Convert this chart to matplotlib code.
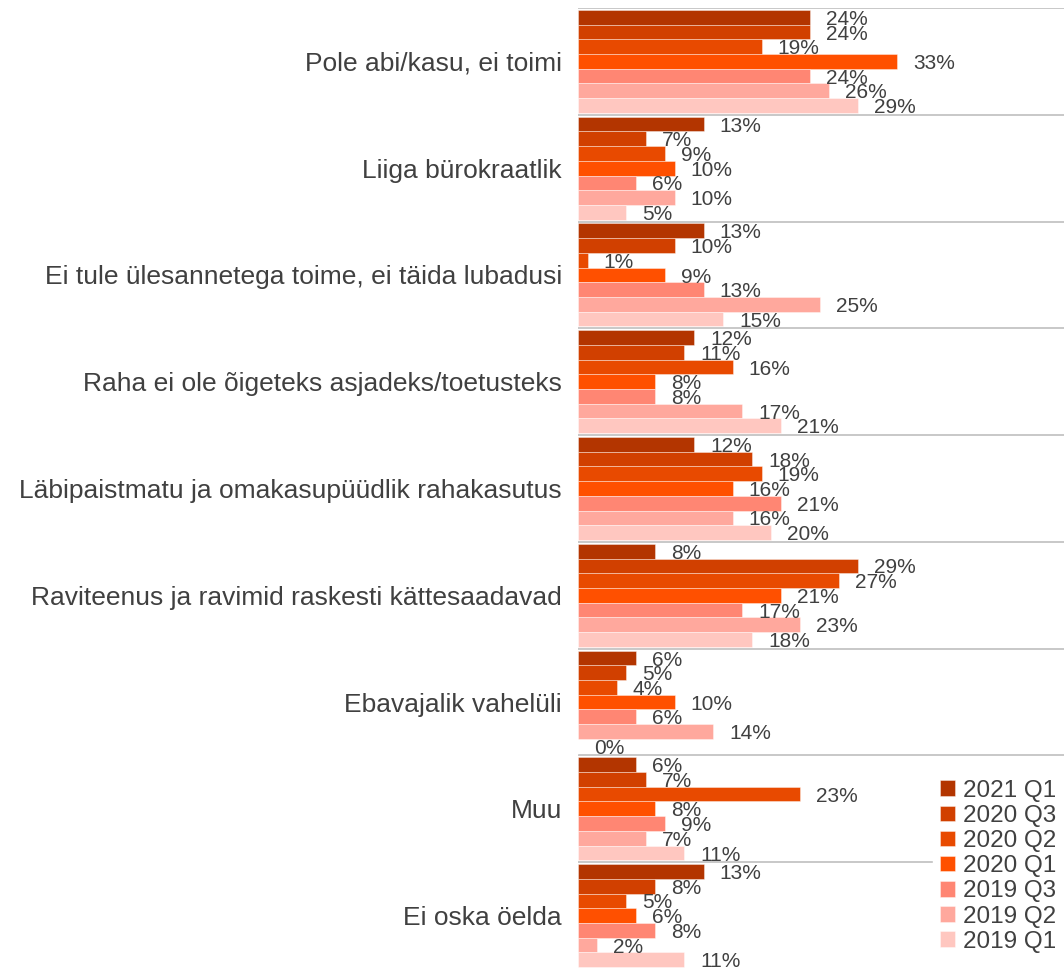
import matplotlib
matplotlib.use("Agg")
import matplotlib.pyplot as plt
import numpy as np

plt.rcParams['font.family'] = ['Liberation Sans', 'DejaVu Sans']

categories = [
    "Pole abi/kasu, ei toimi",
    "Liiga bürokraatlik",
    "Ei tule ülesannetega toime, ei täida lubadusi",
    "Raha ei ole õigeteks asjadeks/toetusteks",
    "Läbipaistmatu ja omakasupüüdlik rahakasutus",
    "Raviteenus ja ravimid raskesti kättesaadavad",
    "Ebavajalik vahelüli",
    "Muu",
    "Ei oska öelda",
]
series_names = ["2021 Q1", "2020 Q3", "2020 Q2", "2020 Q1", "2019 Q3", "2019 Q2", "2019 Q1"]
s2021q1 = [24, 13, 13, 12, 12, 8, 6, 6, 13]
s2020q3 = [24, 7, 10, 11, 18, 29, 5, 7, 8]
s2020q2 = [19, 9, 1, 16, 19, 27, 4, 23, 5]
s2020q1 = [33, 10, 9, 8, 16, 21, 10, 8, 6]
s2019q3 = [24, 6, 13, 8, 21, 17, 6, 9, 8]
s2019q2 = [26, 10, 25, 17, 16, 23, 14, 7, 2]
s2019q1 = [29, 5, 15, 21, 20, 18, 0, 11, 11]
series = [s2021q1, s2020q3, s2020q2, s2020q1, s2019q3, s2019q2, s2019q1]
colors = ["#B33500", "#D14000", "#E84A00", "#FF5000", "#FF8673", "#FFA89D", "#FFC7C0"]

W, H = 1064, 968
fig = plt.figure(figsize=(W / 100, H / 100), dpi=100)
ax = fig.add_axes([578 / W, -1 / H, (W - 578) / W, 961 / H])

n = len(series)
group = 0.964
h = group / n
y = np.arange(len(categories))
for j, (vals, c, name) in enumerate(zip(series, colors, series_names)):
    pos = y - group / 2 + (j + 0.5) * h
    bars = ax.barh(pos, vals, height=h, color=c, edgecolor=(1, 1, 1, 0.45),
                   linewidth=0.6, label=name, zorder=2)
    for b, v in zip(bars, vals):
        ax.annotate(f"{v}%", (b.get_width(), b.get_y() + b.get_height() / 2),
                    xytext=(11.5, -1.5), textcoords="offset points",
                    ha="left", va="center", fontsize=15, color="#404040",
                    zorder=4)

for k in range(len(categories) + 1):
    ax.axhline(k - 0.5, color="#C4C4C4", lw=1.3, zorder=1)

ax.set_xlim(0, 50.3)
ax.set_ylim(len(categories) - 0.5, -0.5)
ax.set_yticks(y)
ax.set_yticklabels(categories, fontsize=19, color="#404040")
ax.tick_params(axis="y", length=0, pad=11.5)
ax.set_xticks([])
for s in ax.spines.values():
    s.set_visible(False)

leg = ax.legend(loc="lower right", bbox_to_anchor=(1.0, 8 / H), bbox_transform=fig.transFigure,
                fontsize=17.5, frameon=True, framealpha=1, edgecolor="white",
                handlelength=0.6, handleheight=0.6, handletextpad=0.35,
                labelspacing=0.13, borderpad=0.3, borderaxespad=0)
leg.set_zorder(5)
for t in leg.get_texts():
    t.set_color("#404040")

fig.savefig("out.png", dpi=100, facecolor="white")
